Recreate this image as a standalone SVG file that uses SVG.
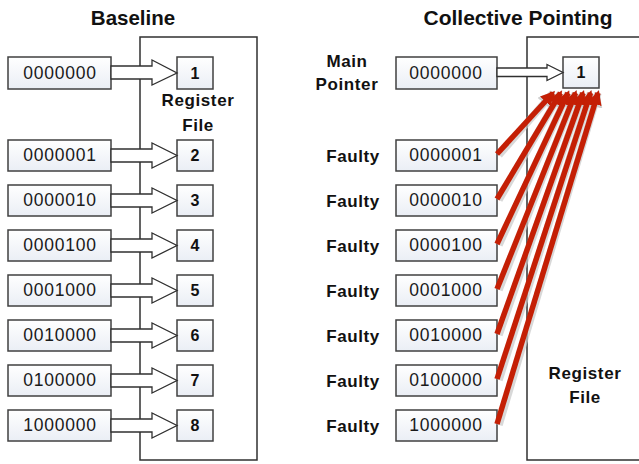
<svg xmlns="http://www.w3.org/2000/svg" width="639" height="464" viewBox="0 0 639 464">
  <defs>
    <linearGradient id="boxfill" x1="0" y1="0" x2="0" y2="1">
      <stop offset="0" stop-color="#ffffff"/>
      <stop offset="1" stop-color="#eaeef5"/>
    </linearGradient>
    <marker id="redhead" viewBox="0 0 10 10" refX="8" refY="5" markerWidth="2.6" markerHeight="2.6" orient="auto" markerUnits="strokeWidth">
      <path d="M0,0 L10,5 L0,10 z" fill="#c41f05"/>
    </marker>
    <marker id="shadowhead" viewBox="0 0 10 10" refX="8" refY="5" markerWidth="2.3" markerHeight="2.3" orient="auto" markerUnits="strokeWidth">
      <path d="M0,0 L10,5 L0,10 z" fill="#bdbdbd"/>
    </marker>
  </defs>
  <style>
    .val { fill: url(#boxfill); stroke: #404040; stroke-width: 1.5; }
    .num { fill: url(#boxfill); stroke: #404040; stroke-width: 1.5; }
    .rf { fill: #ffffff; stroke: #303030; stroke-width: 1.5; }
    .vt { font-family: "Liberation Sans", Arial, sans-serif; font-size: 17.5px; letter-spacing: 0.8px; fill: #1a1a1a; text-anchor: middle; }
    .nt { font-family: "Liberation Sans", Arial, sans-serif; font-size: 16px; font-weight: bold; fill: #111; text-anchor: middle; }
    .lb { font-family: "Liberation Sans", Arial, sans-serif; font-size: 17px; font-weight: bold; letter-spacing: 0.6px; fill: #111; text-anchor: middle; }
    .title { font-family: "Liberation Sans", Arial, sans-serif; font-size: 20.5px; font-weight: bold; fill: #111; text-anchor: middle; }
    .blk { fill: #ffffff; stroke: #303030; stroke-width: 1.3; stroke-linejoin: miter; }
    .red { stroke: #c41f05; stroke-width: 5.5; fill: none; marker-end: url(#redhead); }
    .shd { stroke: #c8c8c8; stroke-width: 7.5; fill: none; opacity: 0.7; marker-end: url(#shadowhead); }
  </style>

  <!-- Titles -->
  <text class="title" x="133" y="25">Baseline</text>
  <text class="title" x="518" y="25" style="font-size:21px">Collective Pointing</text>

  <!-- Register file containers -->
  <g id="regfile-left">
    <rect class="rf" x="140" y="37" width="117" height="423"/>
    <text class="lb" x="198" y="106">Register</text>
    <text class="lb" x="198" y="131">File</text>
  </g>
  <g id="regfile-right">
    <rect class="rf" x="527" y="37" width="130" height="423"/>
    <text class="lb" x="585" y="379">Register</text>
    <text class="lb" x="585" y="403">File</text>
  </g>

  <!-- Baseline value nodes -->
  <g id="b-v1"><rect class="val" x="8" y="57" width="103" height="32"/><text class="vt" x="60" y="79">0000000</text></g>
  <g id="b-v2"><rect class="val" x="8" y="140" width="103" height="31"/><text class="vt" x="60" y="161">0000001</text></g>
  <g id="b-v3"><rect class="val" x="8" y="185" width="103" height="31"/><text class="vt" x="60" y="206">0000010</text></g>
  <g id="b-v4"><rect class="val" x="8" y="230" width="103" height="31"/><text class="vt" x="60" y="251">0000100</text></g>
  <g id="b-v5"><rect class="val" x="8" y="275" width="103" height="31"/><text class="vt" x="60" y="296">0001000</text></g>
  <g id="b-v6"><rect class="val" x="8" y="320" width="103" height="31"/><text class="vt" x="60" y="341">0010000</text></g>
  <g id="b-v7"><rect class="val" x="8" y="365" width="103" height="31"/><text class="vt" x="60" y="386">0100000</text></g>
  <g id="b-v8"><rect class="val" x="8" y="410" width="103" height="31"/><text class="vt" x="60" y="431">1000000</text></g>

  <!-- Baseline register nodes -->
  <g id="b-r1"><rect class="num" x="177" y="57" width="36" height="32"/><text class="nt" x="195" y="79">1</text></g>
  <g id="b-r2"><rect class="num" x="177" y="140" width="36" height="31"/><text class="nt" x="195" y="161">2</text></g>
  <g id="b-r3"><rect class="num" x="177" y="185" width="36" height="31"/><text class="nt" x="195" y="206">3</text></g>
  <g id="b-r4"><rect class="num" x="177" y="230" width="36" height="31"/><text class="nt" x="195" y="251">4</text></g>
  <g id="b-r5"><rect class="num" x="177" y="275" width="36" height="31"/><text class="nt" x="195" y="296">5</text></g>
  <g id="b-r6"><rect class="num" x="177" y="320" width="36" height="31"/><text class="nt" x="195" y="341">6</text></g>
  <g id="b-r7"><rect class="num" x="177" y="365" width="36" height="31"/><text class="nt" x="195" y="386">7</text></g>
  <g id="b-r8"><rect class="num" x="177" y="410" width="36" height="31"/><text class="nt" x="195" y="431">8</text></g>

  <!-- Collective pointing nodes -->
  <g id="c-label-main">
    <text class="lb" x="347" y="67">Main</text>
    <text class="lb" x="347" y="90">Pointer</text>
  </g>
  <g id="c-v1"><rect class="val" x="396" y="57" width="101" height="32"/><text class="vt" x="446" y="79">0000000</text></g>
  <g id="c-r1"><rect class="num" x="563" y="57" width="36" height="31"/><text class="nt" x="581" y="78">1</text></g>

  <g id="c-v2"><text class="lb" x="353" y="162">Faulty</text><rect class="val" x="396" y="140" width="101" height="31"/><text class="vt" x="446" y="161">0000001</text></g>
  <g id="c-v3"><text class="lb" x="353" y="207">Faulty</text><rect class="val" x="396" y="185" width="101" height="31"/><text class="vt" x="446" y="206">0000010</text></g>
  <g id="c-v4"><text class="lb" x="353" y="252">Faulty</text><rect class="val" x="396" y="230" width="101" height="31"/><text class="vt" x="446" y="251">0000100</text></g>
  <g id="c-v5"><text class="lb" x="353" y="297">Faulty</text><rect class="val" x="396" y="275" width="101" height="31"/><text class="vt" x="446" y="296">0001000</text></g>
  <g id="c-v6"><text class="lb" x="353" y="342">Faulty</text><rect class="val" x="396" y="320" width="101" height="31"/><text class="vt" x="446" y="341">0010000</text></g>
  <g id="c-v7"><text class="lb" x="353" y="387">Faulty</text><rect class="val" x="396" y="365" width="101" height="31"/><text class="vt" x="446" y="386">0100000</text></g>
  <g id="c-v8"><text class="lb" x="353" y="432">Faulty</text><rect class="val" x="396" y="410" width="101" height="31"/><text class="vt" x="446" y="431">1000000</text></g>

  <!-- Connectors -->
  <g id="connectors">
    <!-- Baseline block arrows -->
    <path class="blk" d="M111,66 L152,66 L152,60 L177,73 L152,85 L152,79 L111,79 Z"/>
    <path class="blk" d="M111,149 L152,149 L152,143 L177,155.5 L152,168 L152,162 L111,162 Z"/>
    <path class="blk" d="M111,194 L152,194 L152,188 L177,200.5 L152,213 L152,207 L111,207 Z"/>
    <path class="blk" d="M111,239 L152,239 L152,233 L177,245.5 L152,258 L152,252 L111,252 Z"/>
    <path class="blk" d="M111,284 L152,284 L152,278 L177,290.5 L152,303 L152,297 L111,297 Z"/>
    <path class="blk" d="M111,329 L152,329 L152,323 L177,335.5 L152,348 L152,342 L111,342 Z"/>
    <path class="blk" d="M111,374 L152,374 L152,368 L177,380.5 L152,393 L152,387 L111,387 Z"/>
    <path class="blk" d="M111,419 L152,419 L152,413 L177,425.5 L152,438 L152,432 L111,432 Z"/>
    <!-- Main pointer block arrow -->
    <path class="blk" d="M497,68 L547,68 L547,64.5 L563,72.5 L547,80.5 L547,76.5 L497,76.5 Z"/>
    <!-- Red collective pointers: shadows -->
    <line class="shd" x1="499" y1="155" x2="553" y2="93"/>
    <line class="shd" x1="499" y1="200" x2="560.5" y2="93"/>
    <line class="shd" x1="499" y1="245" x2="568" y2="93"/>
    <line class="shd" x1="499" y1="290" x2="575.5" y2="93"/>
    <line class="shd" x1="499" y1="335" x2="583" y2="93"/>
    <line class="shd" x1="499" y1="380" x2="590.5" y2="93"/>
    <line class="shd" x1="499" y1="425" x2="598" y2="93"/>
    <!-- Red collective pointers -->
    <line class="red" x1="497" y1="154" x2="553" y2="93"/>
    <line class="red" x1="497" y1="199" x2="560.5" y2="93"/>
    <line class="red" x1="497" y1="244" x2="568" y2="93"/>
    <line class="red" x1="497" y1="289" x2="575.5" y2="93"/>
    <line class="red" x1="497" y1="334" x2="583" y2="93"/>
    <line class="red" x1="497" y1="379" x2="590.5" y2="93"/>
    <line class="red" x1="497" y1="424" x2="598" y2="93"/>
  </g>
</svg>
